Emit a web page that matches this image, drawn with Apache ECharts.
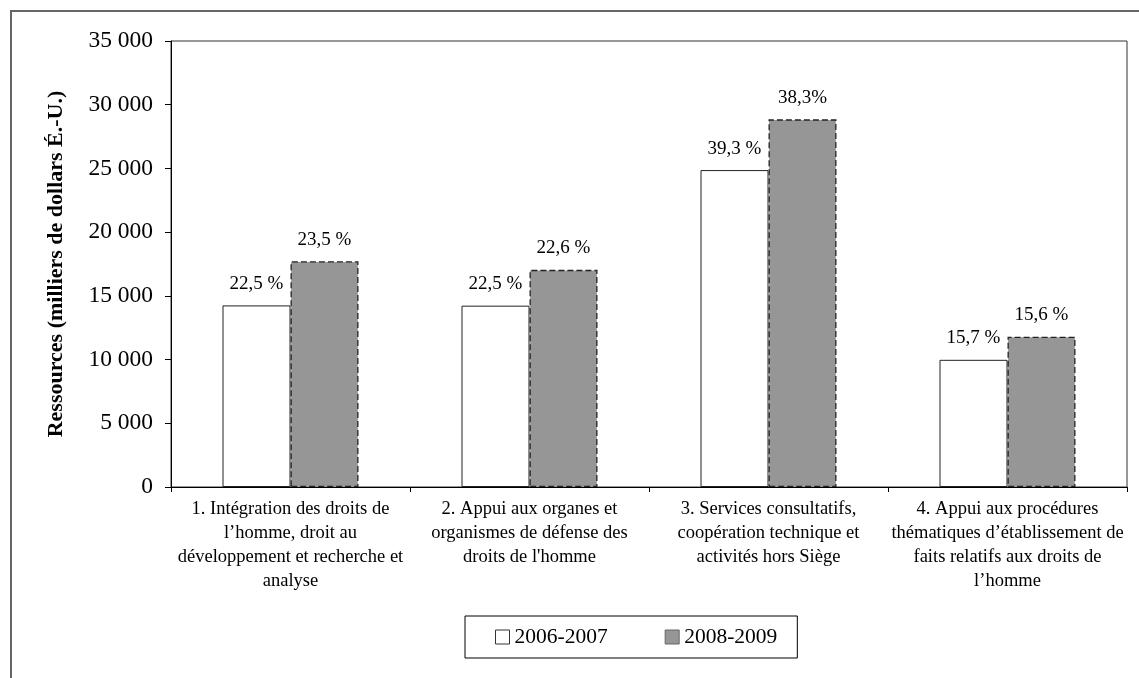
<!DOCTYPE html>
<html>
<head>
<meta charset="utf-8">
<script src="https://cdn.jsdelivr.net/npm/echarts@6/dist/echarts.min.js"></script>
<style>
html, body { margin: 0; padding: 0; background: #fff; }
#chart { width: 1139px; height: 678px; }
</style>
</head>
<body>
<div id="chart"></div>
<script>
// categories (x axis)
const categories = [
    "1. Intégration des droits de\nl’homme, droit au\ndéveloppement et recherche et\nanalyse",
    "2. Appui aux organes et\norganismes de défense des\ndroits de l'homme",
    "3. Services consultatifs,\ncoopération technique et\nactivités hors Siège",
    "4. Appui aux procédures\nthématiques d’établissement de\nfaits relatifs aux droits de\nl’homme"
];
const seriesNames = ["2006-2007", "2008-2009"];
// resources, thousands of US dollars
const values2006 = [14250, 14230, 24870, 9980];
const values2008 = [17710, 17040, 28850, 11800];
// percentage labels shown above bars
const labels2006 = ["22,5 %", "22,5 %", "39,3 %", "15,7 %"];
const labels2008 = ["23,5 %", "22,6 %", "38,3%", "15,6 %"];

const FONT = "'Liberation Serif', 'Times New Roman', serif";

const myChart = echarts.init(document.getElementById("chart"));

const fmtThousands = (v) => {
    const s = String(v);
    return s.replace(/\B(?=(\d{3})+(?!\d))/g, " ");
};

const option = {
    backgroundColor: "#fff",
    animation: false,
    textStyle: { fontFamily: FONT, color: "#000" },
    graphic: [
        {
            type: "rect",
            shape: { x: 11, y: 11, width: 1300, height: 900 },
            style: { fill: "none", stroke: "#666", lineWidth: 2 },
            silent: true
        }
    ],
    grid: {
        left: 171,
        right: 12,
        top: 41,
        bottom: 191,
        show: true,
        borderColor: "#333",
        borderWidth: 1
    },
    legend: {
        data: [
            { name: seriesNames[0], itemStyle: { borderType: "solid", borderColor: "#333", borderWidth: 1 } },
            { name: seriesNames[1], itemStyle: { borderType: "solid", borderColor: "#666", borderWidth: 1 } }
        ],
        left: 465,
        top: 616,
        icon: "rect",
        itemWidth: 14,
        itemHeight: 14,
        itemGap: 57,
        borderColor: "#000",
        borderWidth: 1,
        padding: [10, 20, 10, 30],
        textStyle: { fontFamily: FONT, fontSize: 21.5, color: "#000" }
    },
    xAxis: {
        type: "category",
        data: categories,
        axisLine: { lineStyle: { color: "#000", width: 1 } },
        axisTick: { show: true, length: 5, lineStyle: { color: "#000" } },
        axisLabel: {
            interval: 0,
            margin: 10,
            fontFamily: FONT,
            fontSize: 18.5,
            lineHeight: 24,
            color: "#000",
            align: "center"
        }
    },
    yAxis: {
        type: "value",
        min: 0,
        max: 35000,
        interval: 5000,
        name: "Ressources (milliers de dollars É.-U.)",
        nameLocation: "middle",
        nameGap: 104,
        nameTextStyle: { fontFamily: FONT, fontSize: 22, fontWeight: "bold", color: "#000" },
        axisLine: { show: true, lineStyle: { color: "#000", width: 1 } },
        axisTick: { show: true, length: 6, lineStyle: { color: "#000" } },
        splitLine: { show: false },
        axisLabel: {
            margin: 18,
            fontFamily: FONT,
            fontSize: 23.5,
            color: "#000",
            formatter: fmtThousands
        }
    },
    series: [
        {
            name: seriesNames[0],
            type: "bar",
            data: values2006,
            barWidth: 68,
            barGap: "0%",
            itemStyle: { color: "#fff", borderColor: "#222", borderWidth: 1 },
            label: {
                show: true,
                position: "top",
                distance: 12,
                fontFamily: FONT,
                fontSize: 19,
                color: "#000",
                formatter: (p) => labels2006[p.dataIndex]
            }
        },
        {
            name: seriesNames[1],
            type: "bar",
            data: values2008,
            barWidth: 68,
            barGap: "0%",
            itemStyle: {
                color: "#969696",
                borderColor: "#222",
                borderWidth: 1.3,
                borderType: [6, 3]
            },
            label: {
                show: true,
                position: "top",
                distance: 12,
                fontFamily: FONT,
                fontSize: 19,
                color: "#000",
                formatter: (p) => labels2008[p.dataIndex]
            }
        }
    ]
};

myChart.setOption(option);
</script>
</body>
</html>
